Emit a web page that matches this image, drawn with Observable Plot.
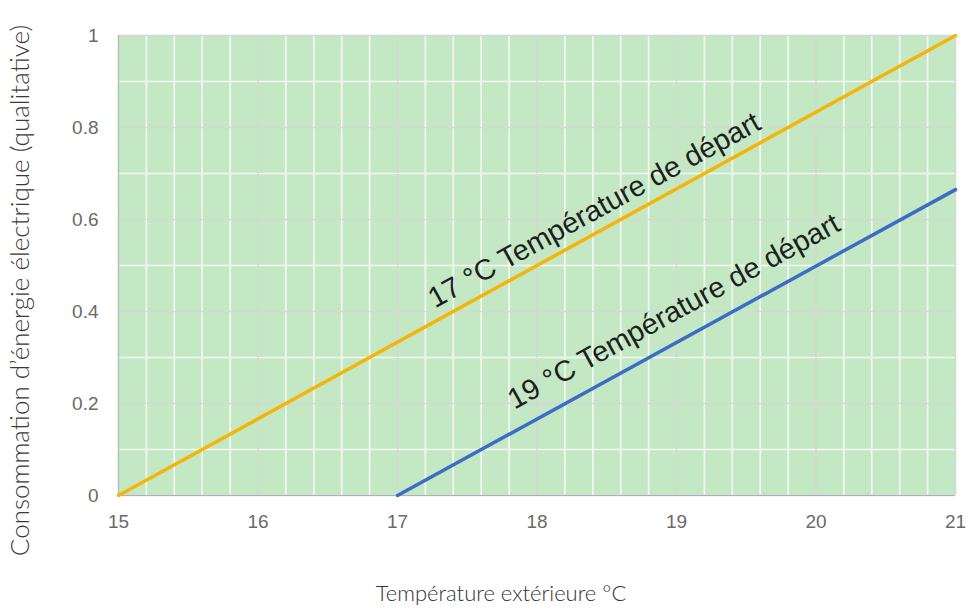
<!DOCTYPE html>
<html>
<head>
<meta charset="utf-8">
<script src="https://cdn.jsdelivr.net/npm/d3@7"></script>
<script src="https://cdn.jsdelivr.net/npm/@observablehq/plot@0.6"></script>
<style>
  html, body { margin: 0; padding: 0; background: #fff; }
  #chart { width: 968px; height: 609px; }
</style>
</head>
<body>
<div id="chart"></div>
<script>
// ---- data ----
const xTicks = [15, 16, 17, 18, 19, 20, 21];
const yTicks = [0, 0.2, 0.4, 0.6, 0.8, 1];
const seriesNames = ["17 °C Température de départ", "19 °C Température de départ"];
const line17X = [15, 21];
const line17Y = [0, 1];
const line19X = [17, 21];
const line19Y = [0, 0.665];
const labelX = [18.41, 18.98];
const labelY = [0.62, 0.40];
const xTitle = "Température extérieure °C";
const yTitle = "Consommation d’énergie électrique (qualitative)";

// ---- derived tables ----
const line17 = line17X.map((x, i) => ({x, y: line17Y[i]}));
const line19 = line19X.map((x, i) => ({x, y: line19Y[i]}));
const labels = seriesNames.map((t, i) => ({text: t, x: labelX[i], y: labelY[i]}));

const W = 968, H = 609;
const mL = 118, mR = 13, mT = 35, mB = 114;
const pw = W - mL - mR, ph = H - mT - mB;
const slope = (line17Y[1] - line17Y[0]) / (line17X[1] - line17X[0]);
const angle = -Math.atan((slope * ph) / (pw / (xTicks[xTicks.length - 1] - xTicks[0]))) * 180 / Math.PI;

const xMinor = d3.range(15, 21.001, 0.2).map(v => +v.toFixed(1)).filter(v => Math.abs(v - Math.round(v)) > 1e-6);
const yMinor = d3.range(0.1, 1, 0.2).map(v => +v.toFixed(1));
const yMajor = yTicks;

const green = "#c4e7c4";
const majorGrid = "#d3dad3";

const chart = Plot.plot({
  width: W,
  height: H,
  marginLeft: mL,
  marginRight: mR,
  marginTop: mT,
  marginBottom: mB,
  style: {fontFamily: "'Liberation Sans', Arial, sans-serif", background: "#fff", overflow: "visible"},
  x: {domain: [15, 21]},
  y: {domain: [0, 1]},
  marks: [
    Plot.frame({fill: green, stroke: null}),
    Plot.ruleX(xMinor, {stroke: "#f4fbf4", strokeWidth: 1.6}),
    Plot.ruleY(yMinor, {stroke: "#f4fbf4", strokeWidth: 1.6}),
    Plot.ruleX(xTicks, {stroke: majorGrid, strokeWidth: 1.5}),
    Plot.ruleY(yMajor, {stroke: majorGrid, strokeWidth: 1.5}),
    Plot.ruleY([0], {stroke: "#a9b2bc", strokeWidth: 1.2}),
    Plot.ruleX([15], {stroke: "#b4bab4", strokeWidth: 1.2}),
    Plot.axisX({ticks: xTicks, tickSize: 0, tickPadding: 19, fontSize: 19, color: "#6a6a6a", label: null, tickFormat: d => String(d)}),
    Plot.axisY({ticks: yTicks, tickSize: 0, tickPadding: 20, fontSize: 19, color: "#6a6a6a", label: null, tickFormat: d => String(d)}),
    Plot.line(line19, {x: "x", y: "y", stroke: "#3b6dc6", strokeWidth: 3.5}),
    Plot.line(line17, {x: "x", y: "y", stroke: "#f4b50a", strokeWidth: 3.5}),
    Plot.text(labels, {x: "x", y: "y", text: "text", rotate: angle, fontSize: 29, fill: "#1e1e1e", textAnchor: "middle", lineAnchor: "middle"}),
    Plot.text([xTitle], {frameAnchor: "bottom", dy: 105, dx: -36, text: d => d, textAnchor: "middle", fontSize: 22, fontWeight: 300, fill: "#333", fontFamily: "Lato, 'Open Sans', sans-serif"}),
    Plot.text([yTitle], {frameAnchor: "left", dx: -98, dy: 25, rotate: -90, text: d => d, textAnchor: "middle", lineAnchor: "middle", fontSize: 26, fontWeight: 300, fill: "#3a3a3a", fontFamily: "Lato, 'Open Sans', sans-serif"})
  ]
});
document.getElementById("chart").appendChild(chart);
</script>
</body>
</html>
